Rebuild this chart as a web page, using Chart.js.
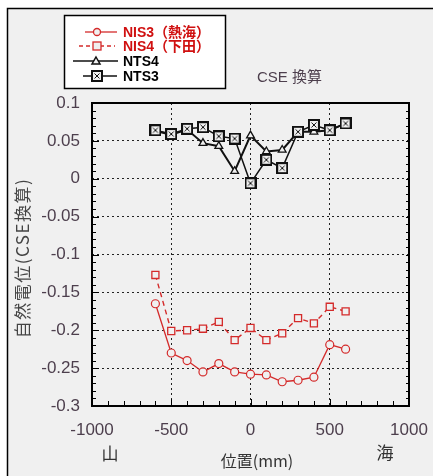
<!DOCTYPE html>
<html lang="ja">
<head>
<meta charset="UTF-8">
<title>自然電位 (CSE換算)</title>
<style>
    body { margin: 0; padding: 0; background: #fff; }
    #wrap { position: relative; width: 433px; height: 476px; }
</style>
</head>
<body>
<div id="wrap"><canvas id="chart" width="433" height="476"></canvas></div>

<script src="https://cdn.jsdelivr.net/npm/chart.js"></script>
<script>
// data (position in mm, potential in V vs CSE)
const positions = [-600, -500, -400, -300, -200, -100, 0, 100, 200, 300, 400, 500, 600];
const nis3 = [-0.165, -0.230, -0.240, -0.255, -0.244, -0.255, -0.258, -0.259, -0.268, -0.266, -0.262, -0.219, -0.225];
const nis4 = [-0.127, -0.201, -0.200, -0.198, -0.189, -0.213, -0.197, -0.213, -0.204, -0.184, -0.191, -0.169, -0.175];
const nts4 = [0.063, 0.058, 0.065, 0.047, 0.043, 0.010, 0.057, 0.036, 0.038, 0.062, 0.062, 0.064, 0.073];
const nts3 = [0.064, 0.059, 0.066, 0.068, 0.056, 0.053, -0.006, 0.025, 0.014, 0.062, 0.071, 0.064, 0.073];
const seriesNames = ['NIS3（熱海）', 'NIS4（下田）', 'NTS4', 'NTS3'];
const xTicks = [-1000, -500, 0, 500, 1000];
const yTicks = [-0.3, -0.25, -0.2, -0.15, -0.1, -0.05, 0, 0.05, 0.1];

const RED = '#d42a2a';
const BG = '#f0f0f0';
const LABEL = '#4d3f4d';

// square with an X inside, used for NTS3
function boxCross() {
    const c = document.createElement('canvas');
    c.width = 12; c.height = 12;
    const g = c.getContext('2d');
    g.fillStyle = BG;
    g.fillRect(1, 1, 10, 10);
    g.strokeStyle = '#111';
    g.lineWidth = 2;
    g.strokeRect(1, 1, 10, 10);
    g.lineWidth = 1;
    g.beginPath();
    g.moveTo(3.5, 3.5); g.lineTo(8.5, 8.5);
    g.moveTo(8.5, 3.5); g.lineTo(3.5, 8.5);
    g.stroke();
    return c;
}
const boxX = boxCross();

function pts(ys) {
    return positions.map((x, i) => ({ x: x, y: ys[i] }));
}

const decor = {
    id: 'decor',
    beforeDraw(chart) {
        const ctx = chart.ctx;
        ctx.save();
        ctx.fillStyle = '#fff';
        ctx.fillRect(0, 0, chart.width, chart.height);
        ctx.fillStyle = BG;
        ctx.fillRect(7, 8, chart.width - 7, chart.height - 8);
        ctx.strokeStyle = '#000';
        ctx.lineWidth = 1.5;
        ctx.beginPath();
        ctx.moveTo(7.5, chart.height);
        ctx.lineTo(7.5, 8.5);
        ctx.lineTo(chart.width, 8.5);
        ctx.stroke();
        ctx.restore();
    },
    afterDatasetsDraw(chart) {
        const ctx = chart.ctx;
        const a = chart.chartArea;
        const xs = chart.scales.x, ys = chart.scales.y;
        ctx.save();
        ctx.strokeStyle = '#000';
        ctx.lineWidth = 1;
        ctx.beginPath();
        // minor ticks, inward
        for (let i = -30; i <= 10; i++) {
            const y = Math.round(ys.getPixelForValue(i / 100)) + 0.5;
            const len = i % 5 === 0 ? 7 : 4;
            ctx.moveTo(a.left, y); ctx.lineTo(a.left + len, y);
            ctx.moveTo(a.right, y); ctx.lineTo(a.right - 3, y);
        }
        for (let v = -1000; v <= 1000; v += 100) {
            const x = Math.round(xs.getPixelForValue(v)) + 0.5;
            const len = v % 500 === 0 ? 7 : 5;
            ctx.moveTo(x, a.bottom); ctx.lineTo(x, a.bottom - len);
        }
        ctx.stroke();
        ctx.lineWidth = 2;
        ctx.strokeRect(a.left, a.top, a.right - a.left, a.bottom - a.top);

        // legend box
        ctx.fillStyle = '#fff';
        ctx.fillRect(64, 15, 162, 74);
        ctx.lineWidth = 1.5;
        ctx.strokeRect(64.5, 15.5, 161, 73);
        const rows = [32, 46, 61, 76];
        // NIS3
        ctx.strokeStyle = RED; ctx.lineWidth = 1.3;
        ctx.beginPath(); ctx.moveTo(85, rows[0]); ctx.lineTo(117, rows[0]); ctx.stroke();
        ctx.fillStyle = BG;
        ctx.beginPath(); ctx.arc(97, rows[0], 3.5, 0, Math.PI * 2); ctx.fill(); ctx.stroke();
        // NIS4
        ctx.setLineDash([4, 3]);
        ctx.beginPath(); ctx.moveTo(79, rows[1]); ctx.lineTo(115, rows[1]); ctx.stroke();
        ctx.setLineDash([]);
        ctx.fillRect(93, rows[1] - 4, 8, 8); ctx.strokeRect(93, rows[1] - 4, 8, 8);
        // NTS4
        ctx.strokeStyle = '#111'; ctx.lineWidth = 1.5;
        ctx.beginPath(); ctx.moveTo(73, rows[2]); ctx.lineTo(118, rows[2]); ctx.stroke();
        ctx.beginPath();
        ctx.moveTo(96, rows[2] - 4); ctx.lineTo(100, rows[2] + 3); ctx.lineTo(92, rows[2] + 3); ctx.closePath();
        ctx.fill(); ctx.stroke();
        // NTS3
        ctx.beginPath(); ctx.moveTo(83, rows[3]); ctx.lineTo(117, rows[3]); ctx.stroke();
        ctx.drawImage(boxX, 91, rows[3] - 6);

        ctx.font = 'bold 14px "Liberation Sans", Arial, "Noto Sans CJK JP"';
        ctx.textBaseline = 'middle';
        ctx.textAlign = 'left';
        seriesNames.forEach((n, i) => {
            ctx.fillStyle = i < 2 ? '#d01010' : '#000';
            ctx.fillText(n, 123, rows[i] + 1);
        });

        // texts
        ctx.fillStyle = LABEL;
        ctx.font = '15px "Liberation Sans", Arial, "Noto Sans CJK JP"';
        ctx.fillText('CSE 換算', 257, 78);
        ctx.fillStyle = '#333';
        ctx.textAlign = 'center';
        ctx.font = '17px "Noto Sans CJK JP"';
        ctx.fillText('山', 110, 454);
        ctx.fillText('海', 385, 453);
        ctx.font = '16px "Noto Sans CJK JP"';
        ctx.fillText('位置(mm)', 257, 461);

        ctx.translate(23, 258);
        ctx.rotate(-Math.PI / 2);
        ctx.font = '17px "Noto Sans CJK JP"';
        ctx.fillStyle = '#444';
        ctx.letterSpacing = '1.5px';
        ctx.fillText('自然電位(CSE換算)', 0, 0);
        ctx.restore();
    }
};

function gridColor(c, list) {
    const v = c.tick.value;
    return (Math.abs(v - list[0]) < 1e-9 || Math.abs(v - list[list.length - 1]) < 1e-9) ? 'rgba(0,0,0,0)' : '#222';
}

new Chart(document.getElementById('chart'), {
    type: 'line',
    plugins: [decor],
    data: {
        datasets: [
            {
                label: seriesNames[0], data: pts(nis3),
                borderColor: RED, borderWidth: 1.3,
                pointStyle: 'circle', pointRadius: 4, pointBorderWidth: 1.2,
                pointBackgroundColor: BG, pointBorderColor: RED
            },
            {
                label: seriesNames[1], data: pts(nis4),
                borderColor: RED, borderWidth: 1.4, borderDash: [5, 4],
                pointStyle: 'rect', pointRadius: 5, pointBorderWidth: 1.3,
                pointBackgroundColor: BG, pointBorderColor: RED
            },
            {
                label: seriesNames[3], data: pts(nts3),
                borderColor: '#111', borderWidth: 1.5,
                pointStyle: boxX, pointRadius: 6
            },
            {
                label: seriesNames[2], data: pts(nts4),
                borderColor: '#111', borderWidth: 2,
                pointStyle: 'triangle', pointRadius: 4.5, pointBorderWidth: 1.3,
                pointBackgroundColor: BG, pointBorderColor: '#111'
            }
        ]
    },
    options: {
        responsive: false,
        animation: false,
        devicePixelRatio: 1,
        layout: { padding: { left: 0, top: 103, right: 24, bottom: 0 } },
        plugins: { legend: { display: false }, tooltip: { enabled: false } },
        elements: { line: { tension: 0 } },
        scales: {
            x: {
                type: 'linear', min: -1000, max: 1000,
                afterFit(s) { s.height = 70; s.paddingLeft = 0; s.paddingRight = 0; },
                afterBuildTicks(s) { s.ticks = xTicks.map(v => ({ value: v })); },
                ticks: {
                    color: LABEL, padding: 14, font: { size: 17, family: '"Liberation Sans", Arial' }, maxRotation: 0,
                    callback: v => String(v)
                },
                grid: { drawTicks: false, lineWidth: 1, color: c => gridColor(c, xTicks) },
                border: { display: false, dash: [2, 3] }
            },
            y: {
                type: 'linear', min: -0.3, max: 0.1,
                afterFit(s) { s.width = 92; s.paddingTop = 0; s.paddingBottom = 0; },
                afterBuildTicks(s) { s.ticks = yTicks.map(v => ({ value: v })); },
                ticks: {
                    color: LABEL, padding: 12, font: { size: 17, family: '"Liberation Sans", Arial' },
                    callback: v => String(Number(v.toFixed(2)))
                },
                grid: { drawTicks: false, lineWidth: 1, color: c => gridColor(c, yTicks) },
                border: { display: false, dash: [2, 3] }
            }
        }
    }
});
</script>
</body>
</html>
